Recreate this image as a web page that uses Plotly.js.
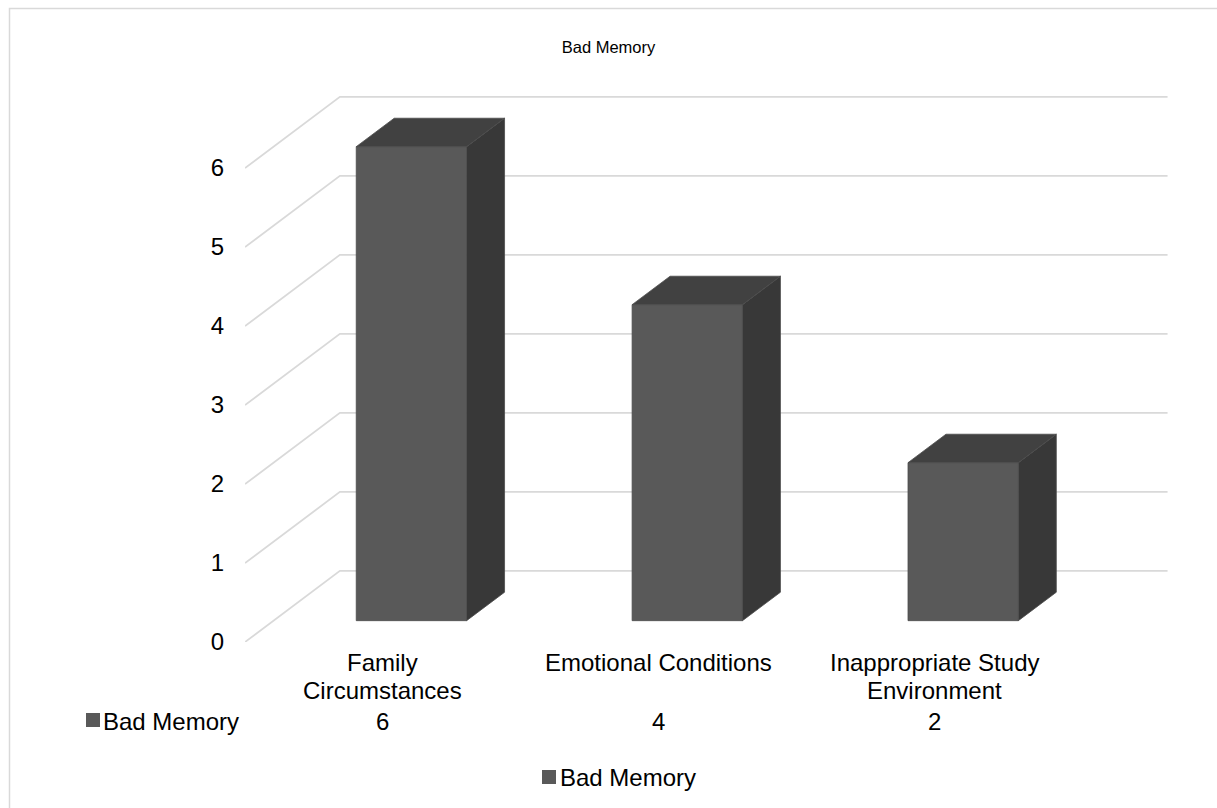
<!DOCTYPE html>
<html>
<head>
<meta charset="utf-8">
<script src="https://cdn.plot.ly/plotly-3.0.1.min.js"></script>
<style>html,body{margin:0;padding:0;background:#fff;}#chart{width:1217px;height:808px;}</style>
</head>
<body>
<div id="chart"></div>
<script>
// ---- data ----
const categories = ["Family Circumstances", "Emotional Conditions", "Inappropriate Study Environment"];
const categoryLabelLines = [["Family", "Circumstances"], ["Emotional Conditions"], ["Inappropriate Study", "Environment"]];
const values = [6, 4, 2];
const seriesName = "Bad Memory";
const chartTitle = "Bad Memory";
const yTicks = [0, 1, 2, 3, 4, 5, 6];

// ---- layout geometry ----
const W = 1217, H = 808;
const M = {l: 245, r: 34, t: 89, b: 166};
const PW = W - M.l - M.r, PH = H - M.t - M.b;
const XR = [0, 3.4], YR = [0, 7];
const px2paperX = p => (p - M.l) / PW;
const py2paperY = p => (H - M.b - p) / PH;

// pseudo-3D projection
const DX = 0.344, DY = 0.9;     // offset for full depth
const HALF = 0.2, D0 = 0.3, D1 = 0.7;
const proj = (x, v, d) => [x + d * DX, v + d * DY];

const FONT = 'Liberation Sans, Arial, sans-serif';
const FS = 24;
const traces = [];

// gridlines on back wall & side wall
const gx = [], gy = [];
yTicks.forEach(v => {
  const a = proj(0, v, 1), b = proj(categories.length, v, 1), f = proj(0, v, 0);
  gx.push(f[0], a[0], b[0], null); gy.push(f[1], a[1], b[1], null);
});
traces.push({x: gx, y: gy, mode: 'lines', line: {color: '#d9d9d9', width: 1.8}, hoverinfo: 'skip', showlegend: false});

// bars
function face(pts, color) {
  const xs = pts.map(p => p[0]), ys = pts.map(p => p[1]);
  xs.push(xs[0]); ys.push(ys[0]);
  return {x: xs, y: ys, mode: 'lines', fill: 'toself', fillcolor: color,
          line: {color: '#4b4b4b', width: 0.8}, hoverinfo: 'skip', showlegend: false};
}
values.forEach((v, i) => {
  const c = i + 0.5;
  traces.push(face([proj(c + HALF, 0, D0), proj(c + HALF, 0, D1), proj(c + HALF, v, D1), proj(c + HALF, v, D0)], '#383838'));
  traces.push(face([proj(c - HALF, v, D0), proj(c + HALF, v, D0), proj(c + HALF, v, D1), proj(c - HALF, v, D1)], '#414141'));
  traces.push(face([proj(c - HALF, 0, D0), proj(c + HALF, 0, D0), proj(c + HALF, v, D0), proj(c - HALF, v, D0)], '#595959'));
});

// ---- annotations (category labels, data table, legend) ----
const ann = [];
const dataX = c => (c - XR[0]) / (XR[1] - XR[0]);
const txt = (x, y, text, xanchor) => ({xref: 'paper', yref: 'paper', x, y, text, showarrow: false,
  xanchor: xanchor || 'center', yanchor: 'middle', font: {family: FONT, size: FS, color: '#000'}});
categoryLabelLines.forEach((lines, i) => {
  lines.forEach((ln, k) => ann.push(txt(dataX(i + 0.5), py2paperY(662.5 + 28 * k), ln)));
});
values.forEach((v, i) => ann.push(txt(dataX(i + 0.5), py2paperY(721), String(v))));
ann.push(txt(px2paperX(101), py2paperY(721), seriesName, 'left'));
ann.push(txt(px2paperX(558), py2paperY(777), seriesName, 'left'));

const shapes = [
  {type: 'rect', xref: 'paper', yref: 'paper', x0: px2paperX(9.5), y0: py2paperY(8.5), x1: px2paperX(1240), y1: py2paperY(840),
   line: {color: '#d9d9d9', width: 1.5}, fillcolor: 'rgba(0,0,0,0)', layer: 'below'},
  {type: 'rect', xref: 'paper', yref: 'paper', x0: px2paperX(86), y0: py2paperY(713), x1: px2paperX(100), y1: py2paperY(727),
   line: {width: 0}, fillcolor: '#595959'},
  {type: 'rect', xref: 'paper', yref: 'paper', x0: px2paperX(542), y0: py2paperY(770), x1: px2paperX(556), y1: py2paperY(784),
   line: {width: 0}, fillcolor: '#595959'}
];

const layout = {
  width: W, height: H,
  margin: M,
  paper_bgcolor: '#fff', plot_bgcolor: '#fff',
  title: {text: chartTitle, x: 0.5, xref: 'container', y: 1 - 47 / H, yref: 'container', yanchor: 'middle', xanchor: 'center',
          font: {family: FONT, size: 16.5, color: '#000'}},
  xaxis: {range: XR, visible: false, fixedrange: true},
  yaxis: {range: YR, tickvals: yTicks, ticktext: yTicks.map(String), showgrid: false, zeroline: false, showline: false,
          ticks: '', ticklabelstandoff: 20, tickfont: {family: FONT, size: FS, color: '#000'}, fixedrange: true},
  showlegend: false,
  annotations: ann,
  shapes: shapes
};

Plotly.newPlot('chart', traces, layout, {displayModeBar: false, staticPlot: true});
</script>
</body>
</html>
